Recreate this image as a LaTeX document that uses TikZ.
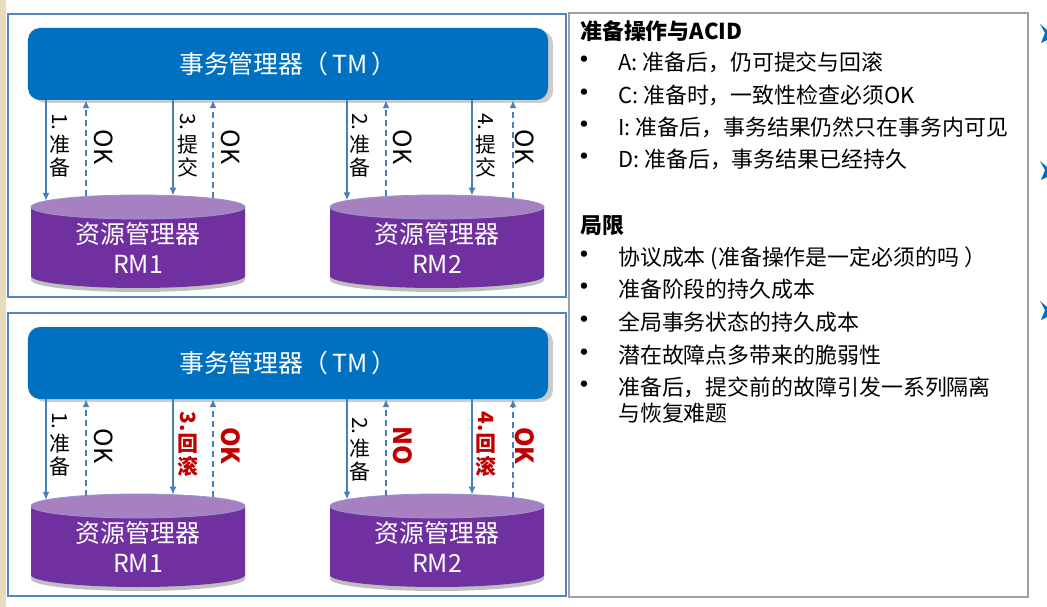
\documentclass[tikz,border=0pt]{standalone}
\usepackage{fontspec}
\setmainfont{Noto Sans CJK SC}
\usetikzlibrary{arrows.meta}

\definecolor{tmblue}{RGB}{0,112,192}
\definecolor{framebl}{RGB}{84,134,196}
\definecolor{arrowbl}{RGB}{74,126,187}
\definecolor{rmbody}{RGB}{112,48,160}
\definecolor{rmtop}{RGB}{166,128,192}
\definecolor{rmedge}{RGB}{150,150,205}
\definecolor{alertred}{RGB}{192,0,0}
\definecolor{panelgray}{RGB}{160,160,160}
\definecolor{sidebeige}{RGB}{232,218,188}
\definecolor{markblue}{RGB}{0,112,192}

% vertical label: rotated number, then upright characters
\newcommand\vtext[3]{\rotatebox[origin=c]{-90}{#1}\\#2\\#3}

% resource manager drum: name, centre x, label
\newcommand\rmcyl[3]{%
  \fill[black, opacity=.25] ({#2-107},211) -- ({#2-107},280)
    arc[start angle=180, end angle=0, x radius=107, y radius=12] -- ({#2+107},211) -- cycle;
  \fill[rmbody] ({#2-107},207) -- ({#2-107},276)
    arc[start angle=180, end angle=0, x radius=107, y radius=12] -- ({#2+107},207) -- cycle;
  \filldraw[fill=rmtop, draw=rmedge, line width=0.8bp] (#2,207) ellipse [x radius=107, y radius=12];
  \node[rmtext] (#1) at (#2,248) {资源管理器\\#3};
}

\tikzset{
  panelframe/.style={draw=framebl, line width=2.5bp},
  tmbox/.style={fill=tmblue, rounded corners=12bp, minimum width=520bp,
    minimum height=72bp, text=white, inner sep=0, font=\fontsize{25}{30}\selectfont},
  rmtext/.style={text=white, align=center, inner sep=0, font=\fontsize{25}{30}\selectfont},
  req/.style={draw=arrowbl, line width=2bp, -{Latex[length=8bp, width=7bp]}},
  reply/.style={req, dash pattern=on 6bp off 4bp},
  vlab/.style={align=center, inner sep=0, font=\fontsize{21}{23}\selectfont},
  oklab/.style={rotate=-90, inner sep=0, font=\fontsize{25}{28}\selectfont},
  hot/.style={text=alertred, font=\fontsize{21}{23}\selectfont\bfseries},
  hotok/.style={text=alertred, font=\fontsize{25}{28}\selectfont\bfseries},
  infoframe/.style={draw=panelgray, line width=1.5bp},
  head/.style={anchor=base west, inner sep=0, font=\fontsize{22}{26}\selectfont\bfseries},
  item/.style={anchor=base west, inner sep=0, font=\fontsize{22}{26}\selectfont},
  dot/.style={anchor=base, inner sep=0, font=\fontsize{30}{30}\selectfont},
  edgemark/.style={fill=markblue},
}

\begin{document}
\begin{tikzpicture}[x=1bp, y=-1bp]
\useasboundingbox (0,0) rectangle (1047,607);
\fill[white] (0,0) rectangle (1047,607);
\fill[sidebeige] (0,0) rectangle (6,607);

% two protocol panels: commit (top) and rollback (bottom)
\foreach \p/\oy in {a/0, b/299} {
  \begin{scope}[shift={(0,\oy)}]
    \draw[panelframe] (8,14) rectangle (566,297);
    \fill[black, opacity=.2, rounded corners=12bp] (33,31) rectangle (553,103);
    \node[tmbox] (tm\p) at (288,64) {事务管理器（\,TM\,）};
    \rmcyl{rm1\p}{138}{RM1}
    \rmcyl{rm2\p}{437}{RM2}
    \coordinate (e1\p) at (46,200.9);
    \coordinate (e2\p) at (86,196.5);
    \coordinate (e3\p) at (173,195.7);
    \coordinate (e4\p) at (213,198.4);
    \coordinate (e5\p) at (347,200.5);
    \coordinate (e6\p) at (386,196.5);
    \coordinate (e7\p) at (472,195.7);
    \coordinate (e8\p) at (513,198.5);
    \draw[req]   (tm\p.south -| e1\p) -- (e1\p);
    \draw[reply] (e2\p) -- (tm\p.south -| e2\p);
    \draw[req]   (tm\p.south -| e3\p) -- (e3\p);
    \draw[reply] (e4\p) -- (tm\p.south -| e4\p);
    \draw[req]   (tm\p.south -| e5\p) -- (e5\p);
    \draw[reply] (e6\p) -- (tm\p.south -| e6\p);
    \draw[req]   (tm\p.south -| e7\p) -- (e7\p);
    \draw[reply] (e8\p) -- (tm\p.south -| e8\p);
  \end{scope}
}

% commit messages
\node[vlab]  (s1a) at (60,145)  {\vtext{1.}{准}{备}};
\node[oklab] (k1a) at (104,147) {OK};
\node[vlab]  (s3a) at (188,145) {\vtext{3.}{提}{交}};
\node[oklab] (k3a) at (231,147) {OK};
\node[vlab]  (s2a) at (360,145) {\vtext{2.}{准}{备}};
\node[oklab] (k2a) at (403,147) {OK};
\node[vlab]  (s4a) at (486,145) {\vtext{4.}{提}{交}};
\node[oklab] (k4a) at (525,147) {OK};

% rollback messages
\node[vlab]         (s1b) at (60,444)  {\vtext{1.}{准}{备}};
\node[oklab]        (k1b) at (104,446) {OK};
\node[vlab, hot]    (s3b) at (188,444) {\vtext{3.}{回}{滚}};
\node[oklab, hotok] (k3b) at (231,446) {OK};
\node[vlab]         (s2b) at (360,449) {\vtext{2.}{准}{备}};
\node[oklab, hotok] (k2b) at (403,446) {NO};
\node[vlab, hot]    (s4b) at (486,444) {\vtext{4.}{回}{滚}};
\node[oklab, hotok] (k4b) at (525,446) {OK};

% notes panel
\draw[infoframe] (569,13) rectangle (1028,597);
\node[head] (h1) at (580,40) {准备操作与ACID};
\foreach \n/\y/\t in {
  a/71/{A: 准备后，仍可提交与回滚},
  c/104/{C: 准备时，一致性检查必须OK},
  i/136/{I: 准备后，事务结果仍然只在事务内可见},
  d/168/{D: 准备后，事务结果已经持久}} {
  \node[dot]  (b\n) at (584,\y) {•};
  \node[item] (t\n) at (618,\y) {\t};
}
\node[head] (h2) at (580,234) {局限};
\foreach \n/\y/\t in {
  1/266/{协议成本 (准备操作是一定必须的吗 ）},
  2/298/{准备阶段的持久成本},
  3/330/{全局事务状态的持久成本},
  4/363/{潜在故障点多带来的脆弱性},
  5/395/{准备后，提交前的故障引发一系列隔离}} {
  \node[dot]  (lb\n) at (584,\y) {•};
  \node[item] (lt\n) at (618,\y) {\t};
}
\node[item] (lt5b) at (618,421) {与恢复难题};

% arrow bullets peeking in at the right edge
\foreach \m/\y in {1/33, 2/170, 3/310} {
  \fill[edgemark] (1040,{\y-9}) -- (1047,{\y-3}) -- (1047,{\y+7}) -- (1041,{\y+10})
    -- (1045,{\y}) -- cycle;
}
\end{tikzpicture}
\end{document}
